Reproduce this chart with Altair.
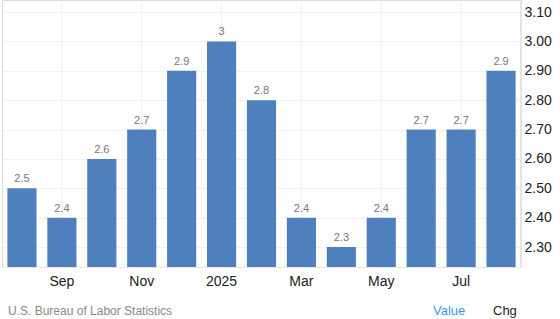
import json
import altair as alt
import pandas as pd

months = ["2024-08", "2024-09", "2024-10", "2024-11", "2024-12", "2025-01",
          "2025-02", "2025-03", "2025-04", "2025-05", "2025-06", "2025-07", "2025-08"]
values = [2.5, 2.4, 2.6, 2.7, 2.9, 3.0, 2.8, 2.4, 2.3, 2.4, 2.7, 2.7, 2.9]
value_labels = ["2.5", "2.4", "2.6", "2.7", "2.9", "3", "2.8", "2.4", "2.3", "2.4", "2.7", "2.7", "2.9"]
tick_labels = ["", "Sep", "", "Nov", "", "2025", "", "Mar", "", "May", "", "Jul", ""]
y_ticks = [2.3, 2.4, 2.5, 2.6, 2.7, 2.8, 2.9, 3.0, 3.1]

df = pd.DataFrame({"month": months, "value": values, "label": value_labels, "tick": tick_labels})

W, H = 519, 267
FONT = "Helvetica, Arial, Liberation Sans"
label_expr = f"{json.dumps(tick_labels)}[indexof({json.dumps(months)}, datum.value)]"

x_axis = alt.Axis(title=None, labelExpr=label_expr, labelAngle=0, ticks=False,
                  domain=True, domainColor="#e6e6e6", grid=False,
                  labelFont=FONT, labelFontSize=14, labelOverlap=False,
                  labelColor="#222", labelPadding=7)
y_axis = alt.Axis(title=None, orient="right", values=y_ticks, format=".2f",
                  ticks=False, domain=False, grid=True, gridColor="#e4e4e4",
                  gridDash=[1, 1], labelFont=FONT, labelOverlap=False,
                  labelFontSize=14, labelColor="#222", labelPadding=3)
x_scale = alt.Scale(paddingInner=0.27, paddingOuter=0.135)
y_scale = alt.Scale(domain=[2.232, 3.141], zero=False, nice=False)

X = alt.X("month:O", sort=months, scale=x_scale, axis=x_axis)
Y = alt.Y("value:Q", scale=y_scale, axis=y_axis)

vgrid = alt.Chart(df).transform_filter("datum.tick != ''").mark_rule(
    color="#e4e4e4", strokeDash=[1, 1]).encode(x=X, y=alt.value(0), y2=alt.value(H))

edges = alt.Chart(df).mark_rule(color="#e4e4e4").encode(
    x=alt.value(519), y=alt.value(0), y2=alt.value(H))

bars = alt.Chart(df).mark_bar(color="#4E80BE").encode(x=X, y=Y, y2=alt.datum(2.232))

text = alt.Chart(df).mark_text(dy=-9, fontSize=11, color="#777", font=FONT).encode(
    x=X, y=Y, text="label:N")

foot1 = alt.Chart(df).transform_filter("datum.month == '2024-08'").mark_text(
    text="U.S. Bureau of Labor Statistics", align="left", fontSize=12, color="#888",
    font=FONT).encode(x=alt.value(6), y=alt.value(311))
foot2 = alt.Chart(df).transform_filter("datum.month == '2024-08'").mark_text(
    text="Value", align="left", fontSize=13, color="#3A9BE8",
    font=FONT).encode(x=alt.value(431), y=alt.value(311))
foot3 = alt.Chart(df).transform_filter("datum.month == '2024-08'").mark_text(
    text="Chg", align="left", fontSize=13, color="#222",
    font=FONT).encode(x=alt.value(491), y=alt.value(311))

chart = alt.layer(vgrid, edges, bars, text, foot1, foot2, foot3).properties(
    width=W, height=H, autosize="none",
    padding={"left": 2, "top": 0, "right": 39, "bottom": 52},
).configure_view(stroke=None).configure(background="white").configure_axisY(
    labelOverlap=False)

chart.save("out.html", embed_options={"renderer": "svg", "actions": False})
